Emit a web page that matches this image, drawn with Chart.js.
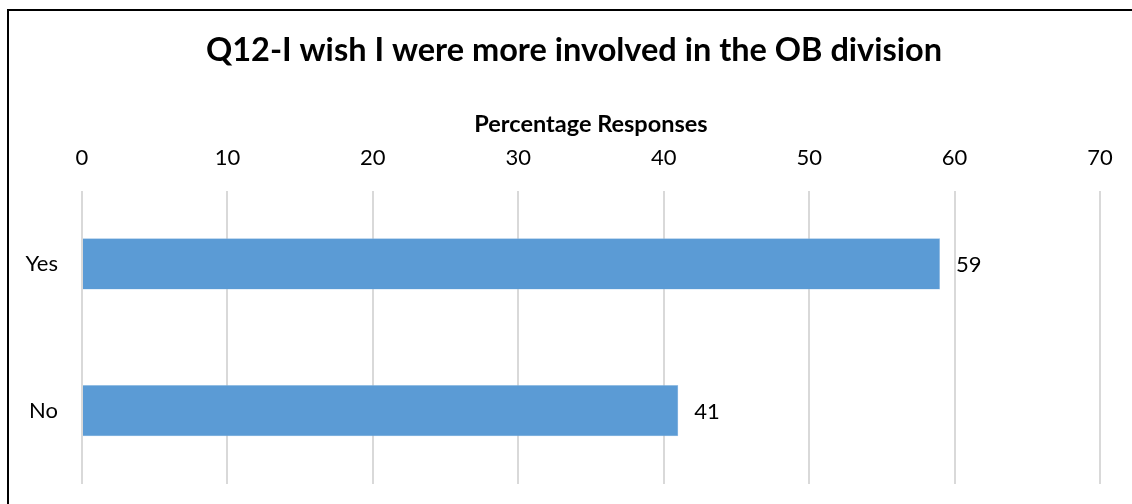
<!DOCTYPE html>
<html>
<head>
<meta charset="utf-8">
<script src="https://cdn.jsdelivr.net/npm/chart.js@4"></script>
<style>
  html, body { margin: 0; padding: 0; background: #fff; overflow: hidden; }
  #frame { position: absolute; left: 7px; top: 9px; width: 1200px; height: 600px;
           border-left: 2px solid #000; border-top: 2px solid #000; pointer-events: none; }
  #chart { position: absolute; left: 8px; top: 0; }
</style>
</head>
<body>
<canvas id="chart" width="1132" height="504"></canvas>
<div id="frame"></div>
<script>
// Q12 survey answers, percent of respondents
const categories = ["Yes", "No"];
const responses = [59, 41];
const xTicks = [0, 10, 20, 30, 40, 50, 60, 70];

const FONT = "Lato, 'Open Sans', sans-serif";

// writes the value just past the end of each bar
const valueLabels = {
    id: 'valueLabels',
    afterDatasetsDraw(chart) {
        const ctx = chart.ctx;
        const meta = chart.getDatasetMeta(0);
        ctx.save();
        ctx.font = `22px ${FONT}`;
        ctx.fillStyle = '#000';
        ctx.textBaseline = 'middle';
        ctx.textAlign = 'left';
        meta.data.forEach((bar, i) => {
            ctx.fillText(String(responses[i]), bar.x + 16, bar.y + 1);
        });
        ctx.restore();
    }
};

new Chart(document.getElementById('chart'), {
    type: 'bar',
    data: {
        labels: categories,
        datasets: [{
            data: responses,
            backgroundColor: '#5B9BD5',
            borderColor: '#9DC3E6',
            borderWidth: 0.5,
            barPercentage: 0.35,
            categoryPercentage: 1.0
        }]
    },
    options: {
        indexAxis: 'y',
        responsive: false,
        animation: false,
        layout: { padding: { left: 0, right: 0, top: 0, bottom: 20 } },
        plugins: {
            legend: { display: false },
            tooltip: { enabled: false },
            title: {
                display: true,
                text: 'Q12-I wish I were more involved in the OB division',
                color: '#000',
                font: { family: FONT, size: 32.5, weight: 'bold' },
                padding: { top: 31, bottom: 0 }
            }
        },
        scales: {
            x: {
                position: 'top',
                min: 0,
                max: 70,
                afterBuildTicks(scale) {
                    scale.ticks = xTicks.map(v => ({ value: v }));
                },
                afterFit(scale) {
                    scale.height = 120.6;
                    // room on the right of the plot, title stays centred on the full width
                    scale.paddingLeft = 0;
                    scale.paddingRight = 40;
                },
                ticks: {
                    color: '#000',
                    padding: 19,
                    font: { family: FONT, size: 22 }
                },
                grid: { color: '#d9d9d9', lineWidth: 2, drawTicks: false },
                border: { display: false },
                title: {
                    display: true,
                    text: 'Percentage Responses',
                    color: '#000',
                    font: { family: FONT, size: 23.5, weight: 'bold' },
                    padding: { top: 40, bottom: 0 }
                }
            },
            y: {
                afterFit(scale) {
                    scale.width = 74;
                    scale.paddingTop = 0;
                    scale.paddingBottom = 0;
                },
                ticks: {
                    color: '#000',
                    padding: 16,
                    font: { family: FONT, size: 22 }
                },
                grid: { display: false },
                border: { display: false }
            }
        }
    },
    plugins: [valueLabels]
});
</script>
</body>
</html>
